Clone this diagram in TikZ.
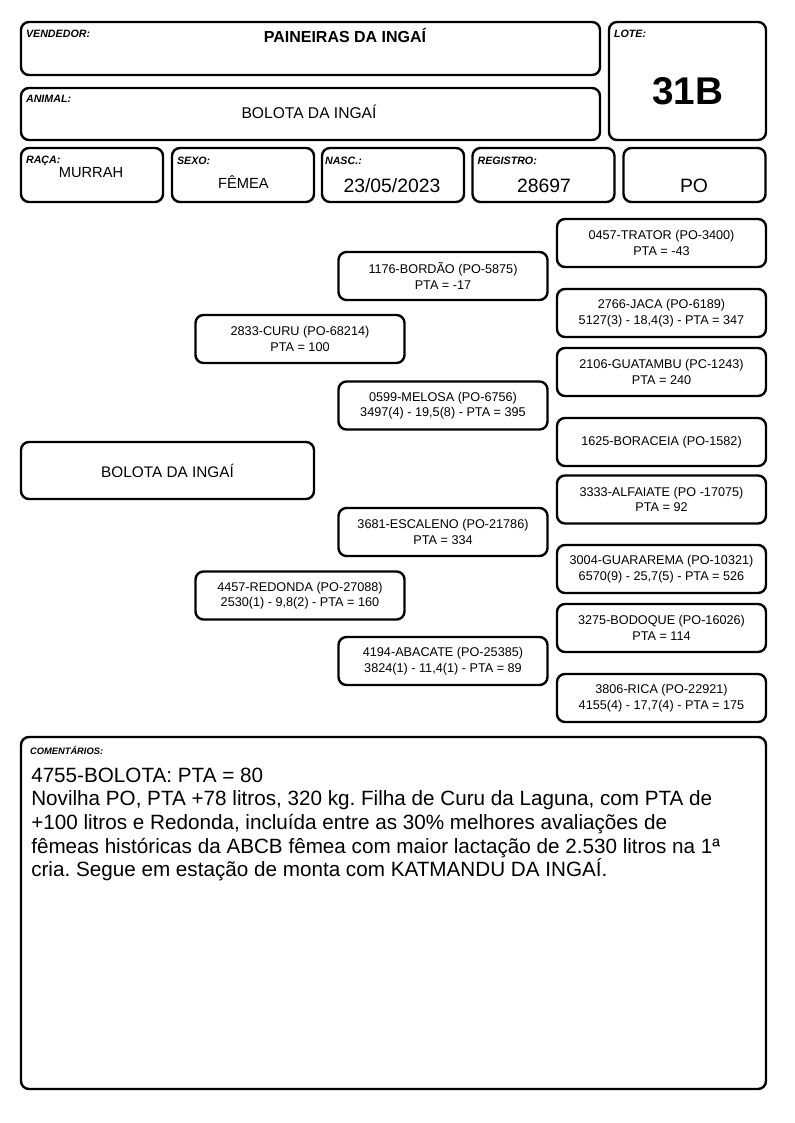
\documentclass[tikz,border=0pt]{standalone}
\usepackage{fontspec}
\setmainfont{Liberation Sans}
\usetikzlibrary{positioning,calc}
\frenchspacing

\newcommand{\tagfont}{\fontsize{8}{9}\selectfont\bfseries\itshape}
\newcommand{\pedfont}{\fontsize{9.5}{11.6}\selectfont}

\tikzset{
  box/.style={draw, line width=1.8pt, rounded corners=6pt, inner sep=0pt},
  ped/.style={box, minimum width=156.75pt, minimum height=36pt, align=center, font=\pedfont},
  cell/.style={box, minimum width=106.5pt, minimum height=40.5pt},
  tag/.style={anchor=north west, inner sep=0pt, font=\tagfont},
  val/.style={anchor=base, inner sep=0pt},
}

\begin{document}
\begin{tikzpicture}[x=0.75pt, y=-0.75pt]
  \useasboundingbox (0,0) rectangle (794,1123);

  % Header boxes
  \node[box, minimum width=434.25pt, minimum height=39.75pt] (vend) at (310.5,48.5) {};
  \node[box, minimum width=117.75pt, minimum height=88.5pt] (lote) at (687.5,81) {};
  \node[box, minimum width=434.25pt, minimum height=39pt] (anim) at (310.5,114) {};
  \node[cell] (raca) at (92,175) {};
  \node[cell] (sexo) at (243,175) {};
  \node[cell] (nasc) at (393,175) {};
  \node[cell] (reg) at (543.5,175) {};
  \node[cell] (po) at (694.5,175) {};

  % Header tags
  \node[tag] (vendtag) at ($(vend.north west)+(6,9)$) {VENDEDOR:};
  \node[tag] (lotetag) at ($(lote.north west)+(6,9)$) {LOTE:};
  \node[tag] (animtag) at ($(anim.north west)+(6,8)$) {ANIMAL:};
  \node[tag] (racatag) at ($(raca.north west)+(6,9)$) {RAÇA:};
  \node[tag] (sexotag) at ($(sexo.north west)+(6,10)$) {SEXO:};
  \node[tag] (nasctag) at ($(nasc.north west)+(4,10)$) {NASC.:};
  \node[tag] (regtag) at ($(reg.north west)+(6,10)$) {REGISTRO:};

  % Header values
  \node[val, font=\fontsize{12}{14}\selectfont\bfseries] (vendval) at (345,43) {PAINEIRAS DA INGAÍ};
  \node[val, font=\fontsize{29}{33}\selectfont\bfseries] (loteval) at (687.5,105) {31B};
  \node[val, font=\fontsize{11.7}{14}\selectfont] (animval) at (309,119) {BOLOTA DA INGAÍ};
  \node[val, font=\fontsize{11}{13}\selectfont] (racaval) at (91,178) {MURRAH};
  \node[val, font=\fontsize{11}{13}\selectfont] (sexoval) at (243.5,189) {FÊMEA};
  \node[val, font=\fontsize{14.5}{17}\selectfont] (nascval) at (392,193) {23/05/2023};
  \node[val, font=\fontsize{14.5}{17}\selectfont] (regval) at (544,193) {28697};
  \node[val, font=\fontsize{14.5}{17}\selectfont] (poval) at (694,193) {PO};

  % Pedigree
  \node[box, minimum width=219.75pt, minimum height=42.75pt, font=\fontsize{11.5}{13}\selectfont] (bolota) at (167.5,470.5) {BOLOTA DA INGAÍ};
  \node[ped] (curu) at (300,339) {2833-CURU (PO-68214)\\PTA = 100};
  \node[ped] (redonda) at (300,595.5) {4457-REDONDA (PO-27088)\\2530(1) - 9,8(2) - PTA = 160};
  \node[ped] (bordao) at (443,276) {1176-BORDÃO (PO-5875)\\PTA = -17};
  \node[ped] (melosa) at (443,405.5) {0599-MELOSA (PO-6756)\\3497(4) - 19,5(8) - PTA = 395};
  \node[ped] (escaleno) at (443,532) {3681-ESCALENO (PO-21786)\\PTA = 334};
  \node[ped] (abacate) at (443,661) {4194-ABACATE (PO-25385)\\3824(1) - 11,4(1) - PTA = 89};
  \node[ped] (trator) at (661.5,243) {0457-TRATOR (PO-3400)\\PTA = -43};
  \node[ped] (jaca) at (661.5,313) {2766-JACA (PO-6189)\\5127(3) - 18,4(3) - PTA = 347};
  \node[ped] (guatambu) at (661.5,372) {2106-GUATAMBU (PC-1243)\\PTA = 240};
  \node[ped] (boraceia) at (661.5,442) {1625-BORACEIA (PO-1582)};
  \node[ped] (alfaiate) at (661.5,499.5) {3333-ALFAIATE (PO -17075)\\PTA = 92};
  \node[ped] (guararema) at (661.5,569) {3004-GUARAREMA (PO-10321)\\6570(9) - 25,7(5) - PTA = 526};
  \node[ped] (bodoque) at (661.5,628) {3275-BODOQUE (PO-16026)\\PTA = 114};
  \node[ped] (rica) at (661.5,698) {3806-RICA (PO-22921)\\4155(4) - 17,7(4) - PTA = 175};

  % Comments
  \node[box, minimum width=558.75pt, minimum height=264pt] (coment) at (393.5,913) {};
  \node[tag, font=\fontsize{7}{8}\selectfont\bfseries\itshape] (comtag) at ($(coment.north west)+(10,10)$) {COMENTÁRIOS:};
  \node[anchor=base west, inner sep=0pt, font=\fontsize{15.5}{17.8}\selectfont] (comtxt) at (31,782)
    {\parbox[t]{580pt}{\raggedright 4755-BOLOTA: PTA = 80\\
     Novilha PO, PTA +78 litros, 320 kg. Filha de Curu da Laguna, com PTA de\\
     +100 litros e Redonda, incluída entre as 30\% melhores avaliações de\\
     fêmeas históricas da ABCB fêmea com maior lactação de 2.530 litros na 1ª\\
     cria. Segue em estação de monta com KATMANDU DA INGAÍ.}};
\end{tikzpicture}
\end{document}
